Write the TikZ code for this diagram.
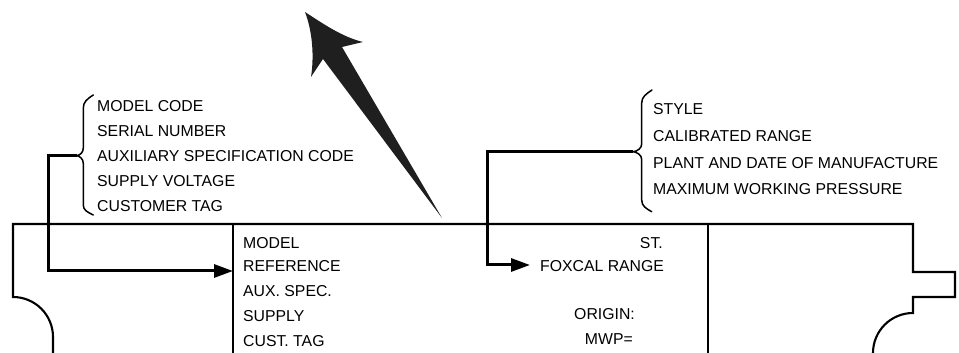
\documentclass[tikz,border=0pt]{standalone}
\usepackage{fontspec}
\setmainfont{Liberation Sans}
\usetikzlibrary{arrows.meta}
\begin{document}
\begin{tikzpicture}[x=1pt,y=1pt,
  outline/.style={line width=2.1pt, line join=miter},
  conn/.style={line width=3pt, -{Triangle[length=19pt,width=13pt]}},
  bracket/.style={line width=1.5pt, line cap=round},
  lbl/.style={font=\fontsize{15.8}{18}\selectfont, inner sep=0pt, anchor=base west},
  rlbl/.style={lbl, anchor=base east}]
\useasboundingbox (0,0) rectangle (959,353);

% label plate outline
\draw[outline] (53,0) -- (53,16) arc[start angle=0, end angle=90, radius=40]
  -- (13,129) -- (913,129) -- (913,81) -- (955,81) -- (955,56) -- (913,56)
  -- (913,40) arc[start angle=90, end angle=180, radius=40];
\draw[outline] (233,129) -- (233,0);
\draw[outline] (708,129) -- (708,0);

% large orientation arrow
\fill[black!88] (305,341) .. controls (322,330) and (342,316) .. (363,311)
  -- (342,306) -- (442,135) -- (323,294) -- (311,276)
  .. controls (314,295) and (313,320) .. (305,341) -- cycle;

% fields on the plate
\node[lbl] (model) at (243,104.7) {MODEL};
\node[lbl] (ref)   at (243,81.3)  {REFERENCE};
\node[lbl] (aux)   at (243,56.3)  {AUX. SPEC.};
\node[lbl] (sup)   at (243,31.3)  {SUPPLY};
\node[lbl] (cust)  at (243,6.3)   {CUST. TAG};
\node[rlbl] (st)   at (663,104.7) {ST.};
\node[lbl] (fox)   at (540,81.3)  {FOXCAL RANGE};
\node[rlbl] (orig) at (635,33)    {ORIGIN:};
\node[rlbl] (mwp)  at (633,8)     {MWP=};

% left legend
\node[lbl] (l1) at (97,241.3) {MODEL CODE};
\node[lbl] (l2) at (97,216.3) {SERIAL NUMBER};
\node[lbl] (l3) at (97,191.3) {AUXILIARY SPECIFICATION CODE};
\node[lbl] (l4) at (97,166.3) {SUPPLY VOLTAGE};
\node[lbl] (l5) at (97,141.3) {CUSTOMER TAG};

% right legend
\node[lbl] (r1) at (653,238)   {STYLE};
\node[lbl] (r2) at (653,211.3) {CALIBRATED RANGE};
\node[lbl] (r3) at (653,184.7) {PLANT AND DATE OF MANUFACTURE};
\node[lbl] (r4) at (653,158)   {MAXIMUM WORKING PRESSURE};

% brackets
\coordinate (ltip) at (76.7,197.3);
\coordinate (rtip) at (633.3,201.3);
\draw[bracket] (93.3,258) .. controls (87,254) and (83.3,251) .. (83.3,245)
  -- (83.3,205) .. controls (83.3,200.5) and (80,197.8) .. (ltip)
  .. controls (80,196.8) and (83.3,194) .. (83.3,189.5)
  -- (83.3,148) .. controls (83.3,143) and (87,141) .. (93.3,138);
\draw[bracket] (652,263) .. controls (646,259) and (641.7,256) .. (641.7,250)
  -- (641.7,209) .. controls (641.7,204.5) and (637,201.8) .. (rtip)
  .. controls (637,200.8) and (641.7,198) .. (641.7,193.5)
  -- (641.7,153) .. controls (641.7,147) and (646,144.5) .. (651.7,141.3);

% connectors into the plate
\coordinate (lrecv) at (233,82);
\coordinate (rrecv) at (530,88);
\draw[conn] (ltip) -- ++(-28.7,0) |- (lrecv);
\draw[conn] (rtip) -- ++(-146.3,0) |- (rrecv);
\end{tikzpicture}
\end{document}
